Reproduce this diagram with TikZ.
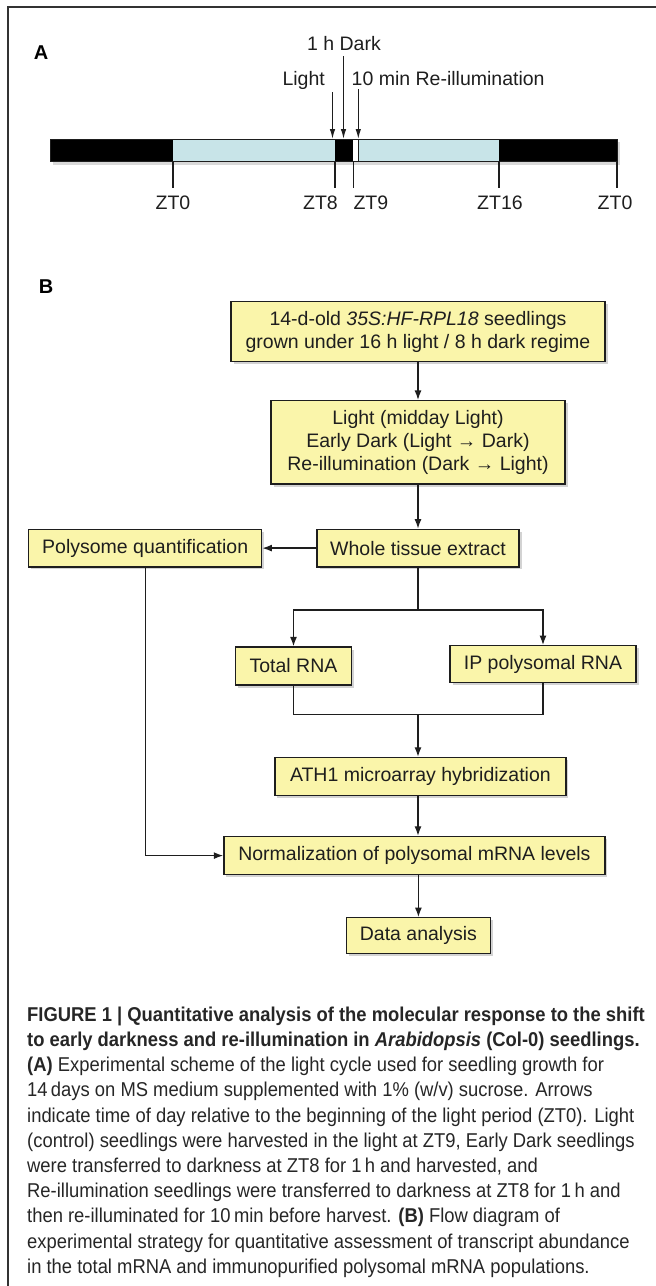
\documentclass[tikz,border=0pt]{standalone}
\usepackage{fontspec}
\setmainfont{Liberation Sans}
\newfontfamily\capfont{Liberation Sans}[FakeStretch=0.92]
\usepackage{xcolor}
\definecolor{inkDark}{HTML}{1E1E1E}
\definecolor{boxFill}{HTML}{FAF5AA}
\definecolor{dayFill}{HTML}{C8E4E8}
\definecolor{frameGray}{HTML}{333333}
\usepackage{tikz}
\usetikzlibrary{positioning,calc,arrows.meta,shadows}
\tikzset{%
  flowBox/.style={%
    rectangle,
    draw=inkDark,
    line width=1.3pt,
    fill=boxFill,
    drop shadow={shadow xshift=2.5pt,shadow yshift=-2.5pt,opacity=0.35},
    inner sep=0pt,
    align=center,
    text=inkDark,
    font=\fontsize{19.5}{23}\selectfont
  },
  arrowLine/.style={%
    -{Latex[length=9.5pt,width=7pt]},
    line width=1.3pt,
    color=inkDark
  },
  plainLine/.style={%
    line width=1.3pt,
    color=inkDark
  },
  markArrow/.style={%
    -{Latex[length=10pt,width=5.5pt]},
    line width=1.2pt,
    color=inkDark
  },
  tickLine/.style={%
    line width=1.1pt,
    color=inkDark
  },
  barEdge/.style={%
    line width=1pt,
    draw=inkDark
  },
  ztLabel/.style={%
    inner sep=0pt,
    text=inkDark,
    font=\fontsize{19.5}{23}\selectfont
  },
  panelLabel/.style={%
    inner sep=0pt,
    font=\bfseries\fontsize{20}{24}\selectfont
  },
  captionText/.style={%
    inner sep=0pt,
    align=left,
    text=black!85,
    font=\capfont\fontsize{20}{25.2}\selectfont
  }
}

\begin{document}
\begin{tikzpicture}[x=1pt,y=-1pt]
  \useasboundingbox (0,0) rectangle (656,1286);
  % frame
  \coordinate (frameBot) at (7.5,1286);
  \coordinate (frameTop) at (7.5,7.3);
  \coordinate (frameEnd) at (656,7.3);
  \draw[line width=2pt, frameGray] (frameBot) -- (frameTop) -- (frameEnd);

  % panel A: light cycle
  \node[panelLabel, anchor=base] (labA) at (41,59) {A};
  \path[fill=black, drop shadow={shadow xshift=2.5pt,shadow yshift=-3pt,opacity=0.3}] (50,139) rectangle (617,161.5);
  \fill[black]   (50,139)    rectangle (173,161.5);
  \fill[dayFill] (173,139)   rectangle (335,161.5);
  \fill[black]   (335,139)   rectangle (353.3,161.5);
  \fill[white]   (353.3,139) rectangle (358.3,161.5);
  \fill[dayFill] (358.3,139) rectangle (499,161.5);
  \fill[black]   (499,139)   rectangle (617,161.5);
  \draw[barEdge] (50,139) rectangle (617,161.5);
  \draw[barEdge] (358.3,139) -- (358.3,161.5);

  \foreach \x/\txt/\anc/\dx [count=\i] in {173/ZT0/base/0, 335/ZT8/base east/3,
      353.3/ZT9/base west/0, 499/ZT16/base/1, 617/ZT0/base/-2}{
    \coordinate (tick\i) at (\x,161.5);
    \node[ztLabel, anchor=\anc] (zt\i) at (\x+\dx,209) {\txt};
    \draw[tickLine] (tick\i) -- (\x,188);
  }

  \node[ztLabel, anchor=base] (darkLbl) at (344,50) {1 h Dark};
  \node[ztLabel, anchor=base east] (lightLbl) at (325,85) {Light};
  \node[ztLabel, anchor=base west] (reillLbl) at (351.5,85) {10 min Re-illumination};
  \coordinate (lightTop) at (332.5,92);
  \coordinate (lightTip) at (332.5,139);
  \coordinate (darkTop) at (343.5,56);
  \coordinate (darkTip) at (343.5,139);
  \coordinate (reillTop) at (358.3,89);
  \coordinate (reillTip) at (358.3,139);
  \draw[markArrow] (lightTop) -- (lightTip);
  \draw[markArrow] (darkTop) -- (darkTip);
  \draw[markArrow] (reillTop) -- (reillTip);

  % panel B: flow diagram
  \node[panelLabel, anchor=base] (labB) at (46,293) {B};
  \node[flowBox, minimum width=374pt, minimum height=60pt] (seedlings) at (418,331.7)
    {14-d-old \textit{35S:HF-RPL18} seedlings\\grown under 16 h light / 8 h dark regime};
  \node[flowBox, minimum width=294pt, minimum height=83.4pt, below=37.6pt of seedlings] (treat)
    {Light (midday Light)\\Early Dark (Light → Dark)\\Re-illumination (Dark → Light)};
  \node[flowBox, minimum width=202pt, minimum height=37.6pt, below=44pt of treat] (extract)
    {Whole tissue extract};
  \node[flowBox, minimum width=233pt, minimum height=37.6pt, left=54pt of extract] (polysome)
    {Polysome quantification};
  \node[flowBox, minimum width=116pt, minimum height=38pt] (totalRna) at (293.5,666) {Total RNA};
  \node[flowBox, minimum width=186pt, minimum height=37pt] (ipRna) at (543,664.2) {IP polysomal RNA};
  \node[flowBox, minimum width=291pt, minimum height=37.7pt] (ath) at (420.4,776.3)
    {ATH1 microarray hybridization};
  \node[flowBox, minimum width=381pt, minimum height=38.3pt, below=40pt of ath, xshift=-6pt] (norm)
    {Normalization of polysomal mRNA levels};
  \node[flowBox, minimum width=144pt, minimum height=35.7pt, below=41.7pt of norm, xshift=4pt] (analysis)
    {Data analysis};

  \draw[arrowLine] (seedlings) -- (treat);
  \draw[arrowLine] (treat) -- (extract);
  \draw[arrowLine] (extract) -- (polysome);
  \draw[plainLine] (extract.south) -- ++(0,42.4) coordinate (split);
  \draw[arrowLine] (split) -| (totalRna.north);
  \draw[arrowLine] (split) -| (ipRna.north);
  \draw[plainLine] (totalRna.south) -- ++(0,29) coordinate (merge) -| (ipRna.south);
  \draw[arrowLine] (merge -| extract.south) -- (ath.north -| extract.south);
  \draw[arrowLine] (ath.south -| extract.south) -- (norm.north -| extract.south);
  \draw[arrowLine] (norm.south -| analysis.north) -- (analysis.north);
  \draw[arrowLine] (polysome.south) |- (norm.west);

  % caption
  \node[captionText, anchor=north west] (caption) at (27,1006.5)
    {\textbf{FIGURE 1 | Quantitative analysis of the molecular response to the shift}\\
     \textbf{to early darkness and re-illumination in \textit{Arabidopsis} (Col-0) seedlings.}\\
     \textbf{(A)} Experimental scheme of the light cycle used for seedling growth for\\
     14\,days on MS medium supplemented with 1\% (w/v) sucrose. Arrows\\
     indicate time of day relative to the beginning of the light period (ZT0). Light\\
     (control) seedlings were harvested in the light at ZT9, Early Dark seedlings\\
     were transferred to darkness at ZT8 for 1\,h and harvested, and\\
     Re-illumination seedlings were transferred to darkness at ZT8 for 1\,h and\\
     then re-illuminated for 10\,min before harvest. \textbf{(B)} Flow diagram of\\
     experimental strategy for quantitative assessment of transcript abundance\\
     in the total mRNA and immunopurified polysomal mRNA populations.};
\end{tikzpicture}
\end{document}
